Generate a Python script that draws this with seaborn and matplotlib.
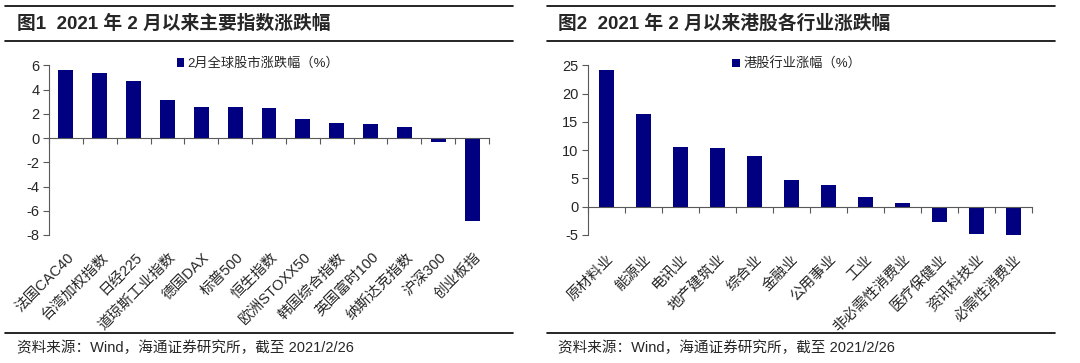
import numpy as np
import pandas as pd
import matplotlib
matplotlib.use("Agg")
import matplotlib.pyplot as plt
import matplotlib.transforms as mtransforms
from matplotlib.lines import Line2D
import seaborn as sns

sns.set_style("ticks")
plt.rcParams['font.family'] = ['Liberation Sans', 'Noto Sans CJK SC']
plt.rcParams['axes.unicode_minus'] = False

# 图1 数据
idx_names = ["法国CAC40", "台湾加权指数", "日经225", "道琼斯工业指数", "德国DAX", "标普500",
             "恒生指数", "欧洲STOXX50", "韩国综合指数", "英国富时100", "纳斯达克指数",
             "沪深300", "创业板指"]
idx_chg = [5.6, 5.35, 4.7, 3.15, 2.6, 2.58, 2.45, 1.6, 1.22, 1.15, 0.9, -0.3, -6.85]

# 图2 数据
ind_names = ["原材料业", "能源业", "电讯业", "地产建筑业", "综合业", "金融业", "公用事业",
             "工业", "非必需性消费业", "医疗保健业", "资讯科技业", "必需性消费业"]
ind_chg = [24.1, 16.4, 10.5, 10.3, 9.05, 4.65, 3.8, 1.8, 0.6, -2.75, -4.8, -5.3]

NAVY = "#000080"
AX_GRAY = "#595959"

fig = plt.figure(figsize=(10.8, 3.63), dpi=100)
W, H = 1080, 363


def px_rect(x0, y0, x1, y1):
    return [x0 / W, 1 - y1 / H, (x1 - x0) / W, (y1 - y0) / H]


def draw_panel(rect, names, vals, ylim, ystep, legend_label, bar_w, lab_off, leg_x):
    ax = fig.add_axes(rect)
    df = pd.DataFrame({"name": names, "val": vals})
    sns.barplot(data=df, x="name", y="val", color=NAVY, saturation=1, width=bar_w,
                linewidth=0, ax=ax, label=legend_label)
    n = len(names)
    ax.set_xlim(-0.5, n - 0.5)
    ax.set_ylim(*ylim)
    ax.set_yticks(np.arange(ylim[0], ylim[1] + ystep / 2, ystep))
    ax.set_xlabel("")
    ax.set_ylabel("")
    for s in ["top", "right"]:
        ax.spines[s].set_visible(False)
    ax.spines["bottom"].set_position(("data", 0))
    ax.spines["bottom"].set_color(AX_GRAY)
    ax.spines["left"].set_color(AX_GRAY)
    ax.spines["bottom"].set_linewidth(0.8)
    ax.spines["left"].set_linewidth(0.8)
    ax.tick_params(axis="x", which="major", length=0, labelbottom=False)
    ax.set_xticks(np.arange(n + 1) - 0.5, minor=True)
    ax.tick_params(axis="x", which="minor", length=4, direction="out", color=AX_GRAY, width=0.8)
    ax.tick_params(axis="y", length=4, direction="out", color=AX_GRAY, width=0.8,
                   labelsize=10.5, pad=3)
    trans = mtransforms.blended_transform_factory(ax.transData, ax.transAxes)
    for i, name in enumerate(names):
        ax.annotate(name, xy=(i, 0), xycoords=trans, xytext=lab_off,
                    textcoords="offset pixels", rotation=45, ha="right", va="top",
                    rotation_mode="anchor", fontsize=10.5)
    ax.legend(loc="upper center", bbox_to_anchor=(leg_x, 1.045), frameon=False,
              handlelength=0.6, handleheight=0.6, handletextpad=0.25,
              borderpad=0, borderaxespad=0, fontsize=9.5)
    return ax


draw_panel(px_rect(49, 65.3, 489, 235), idx_names, idx_chg, (-8, 6), 2,
           "2月全球股市涨跌幅（%）", 0.44, (1, -15), 0.475)
draw_panel(px_rect(588, 65.3, 1032, 235), ind_names, ind_chg, (-5, 25), 5,
           "港股行业涨幅（%）", 0.41, (0, -17), 0.47)

# 标题、分隔线与资料来源
for (x0, x1, tx, title) in [(5, 513, 17, "图1  2021 年 2 月以来主要指数涨跌幅"),
                            (547, 1055, 558, "图2  2021 年 2 月以来港股各行业涨跌幅")]:
    for y in [6, 41, 333]:
        fig.add_artist(Line2D([x0 / W, x1 / W], [1 - y / H] * 2, color="black",
                              lw=1.2, transform=fig.transFigure))
    fig.text(tx / W, 1 - 24 / H, title, fontsize=13.5, fontweight="bold", va="center")
    fig.text(tx / W, 1 - 348 / H, "资料来源：Wind，海通证券研究所，截至 2021/2/26",
             fontsize=10.5, va="center")

fig.savefig("out.png", dpi=100)
